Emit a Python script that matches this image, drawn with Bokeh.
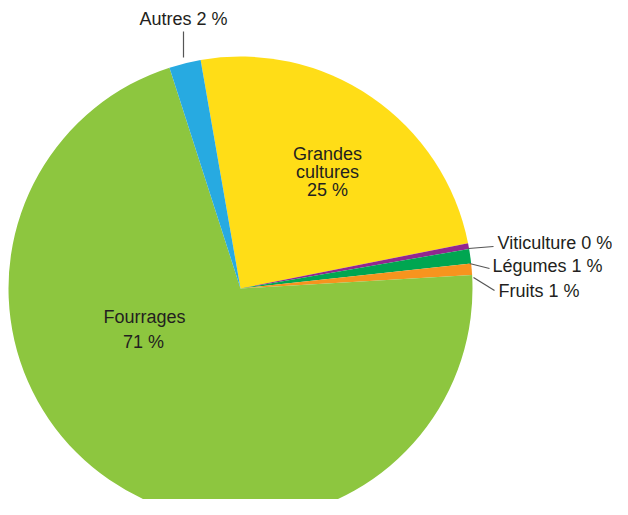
import numpy as np
from bokeh.plotting import figure
from bokeh.models import Range1d, ColumnDataSource
from bokeh.core.properties import value
from bokeh.embed import file_html
from bokeh.resources import INLINE

# Data (clockwise from the top)
categories = ["Grandes cultures", "Viticulture", "Légumes", "Fruits", "Fourrages", "Autres"]
shares = [24.6, 0.4, 1.0, 0.8, 70.9, 2.2]
shown_pct = ["25 %", "0 %", "1 %", "1 %", "71 %", "2 %"]
colors = ["#FFDD17", "#92278F", "#00A651", "#F7941E", "#8DC63F", "#27AAE1"]

W, H = 612, 499
p = figure(width=W, height=H, output_backend="svg", toolbar_location=None,
           x_range=Range1d(0, W), y_range=Range1d(-H, 0),
           min_border=0, outline_line_color=None)
p.axis.visible = False
p.grid.visible = False
p.background_fill_color = "white"
p.border_fill_color = "white"

cx, cy, r = 240, -288, 232
start_deg = -9.9  # clockwise from top
vals = np.array(shares)
cum = np.concatenate([[0], np.cumsum(vals)]) / vals.sum() * 360.0
theta0 = start_deg + cum[:-1]
theta1 = start_deg + cum[1:]
src = ColumnDataSource(dict(
    start=np.radians(90 - theta0), end=np.radians(90 - theta1),
    color=colors, cat=categories))
p.wedge(x=cx, y=cy, radius=r, start_angle="start", end_angle="end",
        direction="clock", fill_color="color", line_color=None, source=src)

# leader lines (label layout)
leaders = [((183, 31), (183, 57)),
           ((468, 248), (493, 246)),
           ((469, 263), (489, 268)),
           ((473, 277), (494, 290))]
for (x0, y0), (x1, y1) in leaders:
    p.line([x0, x1], [-y0, -y1], line_color="#555555", line_width=1.2)

font = value("Liberation Sans")
tc = "#231F20"
dy = -7  # baseline correction

def label(x, y, text, align="left"):
    p.text(x=[x], y=[-(y + dy)], text=[text], text_font=font, text_font_size="18px",
           text_color=tc, text_align=align, text_baseline="alphabetic")

label(183, 25, "Autres " + shown_pct[5], "center")
label(497, 249, "Viticulture " + shown_pct[1])
label(492, 272, "Légumes " + shown_pct[2])
label(498, 297, "Fruits " + shown_pct[3])
label(327, 160, "Grandes", "center")
label(327, 178, "cultures", "center")
label(327, 196, shown_pct[0], "center")
label(144, 323, "Fourrages", "center")
label(143, 348, shown_pct[4], "center")

open("out.html", "w").write(file_html(p, INLINE))
